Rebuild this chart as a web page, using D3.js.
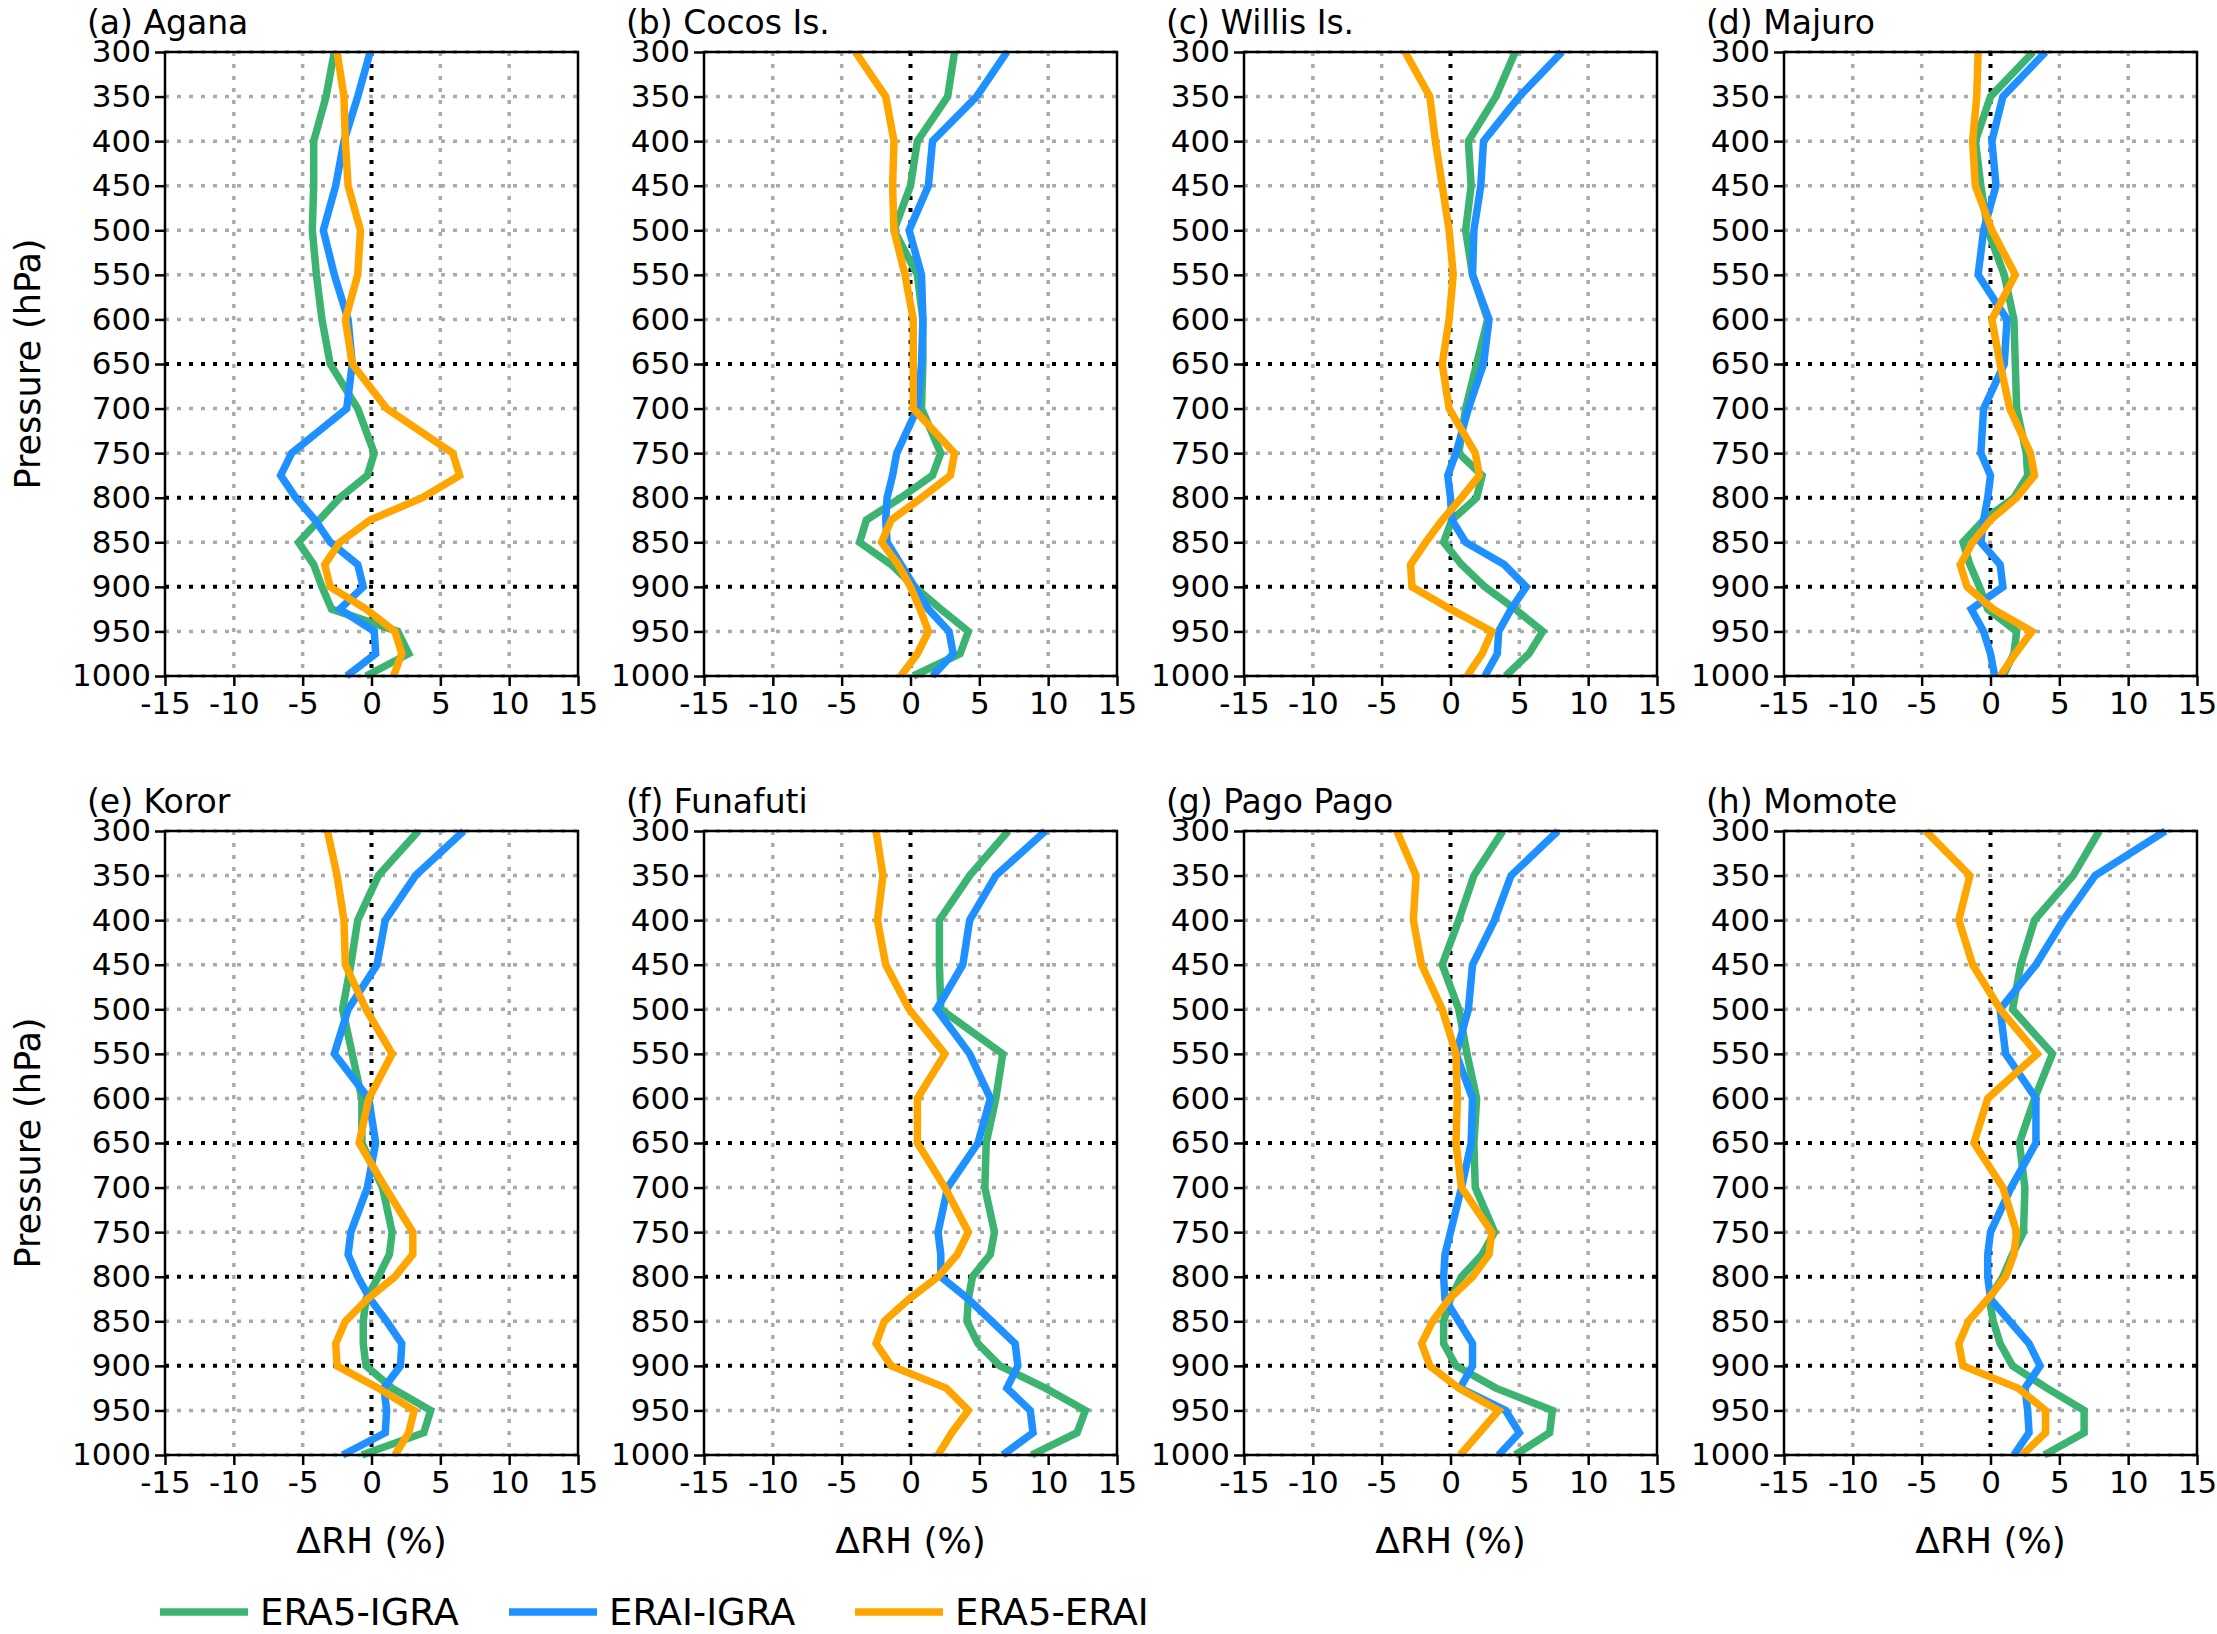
<!DOCTYPE html>
<html>
<head>
<meta charset="utf-8">
<script src="https://d3js.org/d3.v7.min.js"></script>
<style>
  body { margin: 0; background: #fff; }
  text { font-family: "DejaVu Sans", sans-serif; }
</style>
</head>
<body>
<svg width="2217" height="1634"></svg>
<script>
// pressure levels (hPa)
const levels = [300, 350, 400, 450, 500, 550, 600, 650, 700, 750, 775, 800, 825, 850, 875, 900, 925, 950, 975, 1000];
const stations = ["(a) Agana", "(b) Cocos Is.", "(c) Willis Is.", "(d) Majuro",
                  "(e) Koror", "(f) Funafuti", "(g) Pago Pago", "(h) Momote"];
const seriesNames = ["ERA5-IGRA", "ERAI-IGRA", "ERA5-ERAI"];
const seriesColors = ["#3cb371", "#1e90ff", "#ffa500"];
const xTicks = [-15, -10, -5, 0, 5, 10, 15];
const yTicks = [300, 350, 400, 450, 500, 550, 600, 650, 700, 750, 800, 850, 900, 950, 1000];

// ΔRH (%) per station, one array per level
const era5Igra = [
  [-2.7,-3.3,-4.2,-4.2,-4.3,-4.0,-3.6,-3.0,-1.0,0.2,-0.3,-2.3,-3.8,-5.3,-4.2,-3.6,-2.9,1.9,2.7,-0.4],
  [3.2,2.7,0.5,0.0,-1.2,0.5,0.9,0.9,0.8,2.2,1.6,-0.7,-3.2,-3.7,-1.4,0.3,2.2,4.2,3.6,0.2],
  [4.7,3.3,1.3,1.5,1.1,1.6,2.7,1.9,1.1,0.6,2.3,1.9,0.1,-0.5,0.8,2.5,4.7,6.7,5.7,4.0],
  [3.1,0.0,-1.1,-0.7,-0.2,1.0,1.7,1.8,1.9,2.6,2.7,1.7,-0.5,-2.0,-1.5,-0.8,-0.2,1.9,1.7,0.9],
  [3.4,0.5,-1.0,-1.5,-2.1,-1.4,-0.7,-0.7,0.8,1.5,1.3,0.5,-0.4,-0.6,-0.6,-0.4,1.5,4.3,3.8,-0.7],
  [7.1,4.3,2.1,2.1,2.2,6.7,6.2,5.5,5.4,6.1,5.8,4.5,4.2,4.1,4.9,6.5,9.8,12.7,12.1,8.8],
  [3.8,1.7,0.6,-0.6,0.6,1.2,1.9,1.7,1.8,3.2,2.3,0.8,0.0,-0.5,-0.5,0.4,3.3,7.4,7.2,4.7],
  [7.9,6.0,3.2,2.2,1.6,4.5,3.2,2.1,2.5,2.4,1.6,0.9,-0.1,0.2,0.7,1.6,4.1,6.8,6.8,3.9]
];
const eraiIgra = [
  [-0.1,-1.0,-2.0,-2.6,-3.5,-2.7,-1.7,-1.4,-1.8,-5.8,-6.6,-5.5,-4.1,-3.0,-1.0,-0.6,-2.3,0.2,0.3,-1.8],
  [7.0,4.8,1.6,1.3,-0.1,0.8,0.9,0.8,0.5,-1.0,-1.3,-1.7,-1.8,-1.7,-0.7,0.3,1.3,2.8,3.1,1.6],
  [8.1,5.0,2.4,2.2,1.7,1.6,2.8,2.4,1.3,0.4,-0.2,0.0,0.1,1.1,3.9,5.5,4.4,3.5,3.4,2.5],
  [4.0,0.9,0.1,0.4,-0.5,-0.9,1.2,1.0,-0.5,-0.7,0.0,-0.2,-0.5,-0.7,0.7,0.9,-1.4,-0.5,0.0,0.3],
  [6.7,3.2,1.0,0.4,-1.7,-2.7,-0.2,0.3,-0.3,-1.5,-1.7,-1.0,-0.1,1.1,2.2,2.1,0.9,1.1,1.0,-2.1],
  [9.8,6.2,4.3,3.8,1.9,4.3,5.8,4.9,2.7,2.0,2.2,2.2,4.2,5.9,7.6,7.8,7.0,8.7,8.9,6.7],
  [7.8,4.4,3.2,1.6,1.3,0.4,1.6,1.5,0.8,0.0,-0.4,-0.5,-0.4,0.6,1.6,1.6,0.7,4.0,5.0,3.5],
  [12.7,7.6,5.3,3.3,0.7,1.1,3.3,3.3,1.5,0.0,-0.2,-0.2,0.0,1.4,2.8,3.6,2.5,2.7,2.8,1.7]
];
const era5Erai = [
  [-2.5,-2.0,-1.9,-1.7,-0.8,-1.0,-1.9,-1.4,1.1,5.9,6.4,3.7,-0.1,-2.3,-3.4,-3.0,-0.4,1.7,2.2,1.6],
  [-4.0,-1.8,-1.2,-1.3,-1.2,-0.4,0.2,0.2,0.2,3.2,2.9,0.8,-1.4,-2.1,-0.9,0.0,0.7,1.3,0.5,-0.7],
  [-3.3,-1.5,-1.1,-0.6,-0.1,0.2,-0.1,-0.6,-0.1,1.8,2.1,0.8,-0.6,-1.8,-2.9,-2.8,0.0,3.0,2.3,1.2],
  [-0.9,-1.0,-1.3,-1.1,0.1,1.8,0.1,0.7,1.4,2.9,3.2,1.9,0.0,-1.3,-2.2,-1.7,0.2,3.0,1.8,0.7],
  [-3.2,-2.5,-2.0,-1.9,-0.4,1.5,-0.2,-0.9,1.0,3.0,3.0,1.7,-0.3,-1.9,-2.6,-2.5,0.5,3.1,2.7,1.7],
  [-2.5,-2.0,-2.4,-1.8,-0.1,2.5,0.5,0.5,2.5,4.2,3.4,2.0,-0.1,-1.9,-2.5,-1.4,2.6,4.2,3.0,2.0],
  [-3.9,-2.5,-2.7,-2.1,-0.6,0.4,0.5,0.4,0.8,3.0,2.8,1.6,-0.1,-1.3,-2.1,-1.5,0.6,3.5,2.1,0.7],
  [-4.7,-1.5,-2.3,-1.3,0.7,3.4,-0.2,-1.2,0.9,1.9,1.7,1.1,-0.2,-1.6,-2.3,-2.0,2.0,4.0,4.0,2.3]
];
const allSeries = [era5Igra, eraiIgra, era5Erai];

const svg = d3.select("svg");
const panelW = 413, panelH = 624;
const lefts = [165, 704, 1244, 1784];
const tops = [52, 831];
const fs = 31;
const fmt = d => String(d); // plain hyphen minus, no thousands separator

stations.forEach((name, i) => {
  const col = i % 4, row = Math.floor(i / 4);
  const g = svg.append("g").attr("transform", `translate(${lefts[col]},${tops[row]})`);
  const x = d3.scaleLinear().domain([-15, 15]).range([0, panelW]);
  const y = d3.scaleLinear().domain([300, 1000]).range([0, panelH]);

  // grid
  g.selectAll(".gx").data([-10, -5, 5, 10]).enter().append("line")
    .attr("x1", d => x(d)).attr("x2", d => x(d)).attr("y1", 0).attr("y2", panelH)
    .attr("stroke", "#aaa").attr("stroke-width", 3.5).attr("stroke-dasharray", "4,8");
  g.selectAll(".gy").data(yTicks.filter(d => ![650, 800, 900].includes(d))).enter().append("line")
    .attr("y1", d => y(d)).attr("y2", d => y(d)).attr("x1", 0).attr("x2", panelW)
    .attr("stroke", "#aaa").attr("stroke-width", 3.5).attr("stroke-dasharray", "4,8");
  g.selectAll(".by").data([650, 800, 900]).enter().append("line")
    .attr("y1", d => y(d)).attr("y2", d => y(d)).attr("x1", 0).attr("x2", panelW)
    .attr("stroke", "#000").attr("stroke-width", 4).attr("stroke-dasharray", "4,8");
  g.append("line").attr("x1", x(0)).attr("x2", x(0)).attr("y1", 0).attr("y2", panelH)
    .attr("stroke", "#000").attr("stroke-width", 4).attr("stroke-dasharray", "4,8");

  // lines
  allSeries.forEach((s, k) => {
    const line = d3.line().x(d => x(d)).y((d, j) => y(levels[j]));
    g.append("path").datum(s[i]).attr("d", line)
      .attr("fill", "none").attr("stroke", seriesColors[k]).attr("stroke-width", 7.5)
      .attr("stroke-linejoin", "miter");
  });

  // frame + axes
  g.append("rect").attr("width", panelW).attr("height", panelH)
    .attr("fill", "none").attr("stroke", "#000").attr("stroke-width", 2.5);
  const xa = g.append("g").attr("transform", `translate(0,${panelH})`)
    .call(d3.axisBottom(x).tickValues(xTicks).tickFormat(fmt).tickSize(10).tickPadding(6).tickSizeOuter(0));
  const ya = g.append("g")
    .call(d3.axisLeft(y).tickValues(yTicks).tickFormat(fmt).tickSize(10).tickPadding(4).tickSizeOuter(0));
  [xa, ya].forEach(a => {
    a.select(".domain").remove();
    a.selectAll("line").attr("stroke-width", 2.5);
    a.selectAll("text").attr("font-size", fs).attr("fill", "#000")
      .attr("font-family", "DejaVu Sans, sans-serif");
  });

  g.append("text").attr("x", -78).attr("y", -18).attr("font-size", 33).text(name);

  if (row === 1) {
    g.append("text").attr("x", panelW / 2).attr("y", panelH + 98)
      .attr("text-anchor", "middle").attr("font-size", 36).text("ΔRH (%)");
  }
  if (col === 0) {
    g.append("text").attr("transform", `translate(-125,${panelH / 2}) rotate(-90)`)
      .attr("text-anchor", "middle").attr("font-size", 35).text("Pressure (hPa)");
  }
});

// legend
const legX = [160, 509, 855];
seriesNames.forEach((n, k) => {
  const lg = svg.append("g").attr("transform", `translate(${legX[k]},1612)`);
  lg.append("line").attr("x1", 0).attr("x2", 88).attr("stroke", seriesColors[k]).attr("stroke-width", 7.5);
  lg.append("text").attr("x", 100).attr("y", 13).attr("font-size", 37).text(n);
});
</script>
</body>
</html>
